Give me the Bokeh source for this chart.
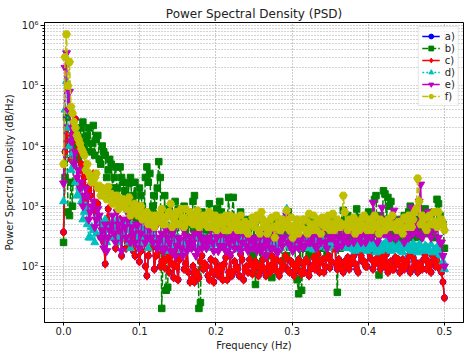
import numpy as np
from bokeh.plotting import figure
from bokeh.models import Range1d, FixedTicker
from bokeh.embed import file_html
from bokeh.resources import INLINE

# Frequency bins (Hz): 257 bins from 0 to 0.5
freq = np.linspace(0.0, 0.5, 257)

series_labels = ["a)", "b)", "c)", "d)", "e)", "f)"]

# Values read at even bins (k/256) and odd bins ((k+0.5)/256)
psd_c_even = [370, 20000, 12000, 8000, 28000, 9000, 5000, 3000, 2000, 1500, 3400, 750, 580, 400, 110, 900,
              500, 350, 250, 600, 400, 200, 300, 450, 150, 250, 180, 300, 70, 200, 250, 150,
              180, 120, 95, 200, 150, 65, 100, 130, 250, 110, 80, 60, 55, 70, 120, 90,
              100, 60, 80, 120, 70, 90, 110, 60, 150, 80, 100, 70, 130, 90, 80, 110,
              90, 110, 80, 130, 70, 100, 150, 90, 80, 120, 100, 140, 80, 110, 90, 130,
              75, 80, 120, 90, 140, 110, 80, 130, 100, 150, 120, 400, 90, 110, 80, 100,
              90, 130, 110, 80, 150, 120, 100, 160, 90, 130, 110, 140, 100, 80, 120, 90,
              110, 80, 130, 100, 150, 90, 120, 80, 100, 130, 90, 110, 150, 100, 200, 80,
              30]
psd_c_odd = [8000, 15000, 6000, 22000, 12000, 4000, 2500, 1200, 1800, 2500, 900, 1100, 300, 250, 600, 450,
             300, 200, 450, 150, 300, 250, 600, 180, 350, 120, 400, 100, 150, 300, 90, 200,
             100, 220, 130, 80, 110, 180, 60, 150, 90, 200, 55, 100, 80, 65, 150, 110,
             70, 130, 55, 90, 100, 60, 140, 80, 70, 120, 90, 160, 60, 100, 130, 75,
             120, 70, 100, 90, 160, 80, 110, 130, 70, 90, 150, 85, 120, 70, 110, 80,
             110, 130, 70, 100, 90, 160, 120, 80, 140, 95, 200, 110, 130, 90, 120, 140,
             110, 150, 90, 170, 120, 100, 200, 130, 110, 180, 90, 120, 160, 110, 90, 140,
             130, 100, 90, 120, 80, 140, 100, 110, 90, 150, 120, 80, 130, 110, 90, 55]

psd_a_even = list(psd_c_even)
psd_a_odd = list(psd_c_odd)

psd_b_even = [250, 30000, 700, 1000, 12000, 6000, 20000, 9000, 15000, 8000, 22000, 13000, 6000, 10000, 7000, 4000,
              5000, 3000, 2000, 4500, 2500, 1500, 2400, 1200, 2500, 800, 1500, 600, 4500, 3500, 1000, 700,
              5500, 20, 1500, 45, 700, 300, 500, 900, 600, 400, 800, 300, 1500, 500, 25, 600,
              400, 1100, 700, 300, 500, 800, 400, 600, 300, 1400, 500, 350, 600, 250, 400, 500,
              500, 300, 100, 250, 400, 300, 65, 350, 200, 450, 300, 150, 400, 250, 100, 35,
              40, 200, 300, 250, 400, 150, 300, 200, 350, 250, 450, 300, 37, 200, 850, 400,
              300, 500, 350, 650, 400, 250, 300, 450, 350, 1500, 72, 500, 1600, 1400, 1200, 400,
              300, 400, 500, 250, 800, 350, 600, 400, 300, 500, 770, 350, 450, 300, 1100, 500,
              200]
psd_b_odd = [3000, 800, 2500, 18000, 9000, 14000, 25000, 12000, 20000, 11000, 7000, 15000, 5000, 8000, 3000, 6000,
             2000, 4500, 1200, 3000, 1800, 900, 3000, 1500, 600, 2000, 1000, 3000, 2500, 800, 1500, 2000,
             3000, 200, 40, 900, 400, 1200, 250, 600, 1000, 300, 500, 1200, 400, 20, 800, 300,
             700, 450, 300, 900, 1200, 350, 500, 1400, 600, 400, 250, 800, 450, 350, 600, 150,
             50, 600, 250, 400, 150, 500, 250, 600, 300, 120, 500, 800, 250, 400, 60, 300,
             250, 450, 150, 600, 300, 400, 250, 500, 150, 350, 600, 200, 500, 300, 600, 700,
             450, 250, 900, 300, 500, 600, 800, 300, 1300, 200, 700, 1800, 600, 1000, 350, 250,
             600, 250, 700, 500, 1000, 300, 450, 600, 350, 900, 500, 400, 800, 1300, 700, 500]

psd_d_even = [1200, 120000, 10000, 7500, 2500, 1500, 1200, 800, 500, 300, 400, 350, 550, 450, 600, 400,
              500, 350, 600, 300, 450, 400, 250, 500, 350, 300, 450, 250, 350, 280, 400, 300,
              250, 300, 220, 280, 200, 320, 240, 260, 200, 300, 230, 270, 210, 290, 240, 220,
              230, 270, 200, 250, 280, 220, 260, 190, 240, 300, 210, 250, 230, 270, 200, 240,
              220, 260, 190, 240, 280, 210, 250, 230, 270, 200, 240, 900, 220, 260, 200, 230,
              250, 210, 270, 230, 190, 260, 220, 280, 240, 200, 250, 230, 270, 210, 240, 260,
              200, 230, 180, 220, 190, 240, 180, 210, 230, 170, 200, 220, 190, 240, 180, 210,
              190, 220, 170, 210, 230, 180, 200, 170, 220, 190, 210, 180, 170, 190, 170, 150,
              90]
psd_d_odd = [40000, 20000, 4000, 5000, 1500, 2000, 600, 1000, 300, 450, 250, 700, 350, 500, 250, 450,
             300, 450, 250, 400, 300, 550, 200, 350, 450, 250, 300, 400, 200, 350, 250, 280,
             200, 250, 300, 180, 260, 220, 300, 180, 250, 280, 200, 240, 300, 200, 260, 300,
             250, 210, 300, 230, 200, 260, 240, 280, 210, 250, 190, 280, 220, 240, 260, 210,
             200, 240, 280, 210, 250, 190, 270, 220, 250, 300, 700, 280, 200, 240, 210, 260,
             220, 280, 200, 250, 240, 210, 270, 230, 200, 260, 220, 250, 230, 280, 200, 230,
             240, 190, 250, 200, 260, 210, 240, 190, 220, 250, 180, 230, 260, 200, 220, 190,
             230, 180, 220, 200, 190, 240, 210, 230, 180, 220, 200, 230, 190, 210, 160, 120]

psd_e_even = [2400, 350000, 80000, 20000, 8000, 4000, 2500, 1500, 1500, 800, 1200, 600, 700, 400, 500, 300,
              500, 350, 800, 400, 600, 300, 700, 450, 250, 500, 350, 600, 300, 400, 250, 450,
              250, 350, 200, 300, 180, 400, 220, 280, 150, 320, 250, 200, 350, 180, 300, 260,
              200, 300, 250, 400, 180, 350, 220, 300, 160, 280, 350, 200, 250, 400, 180, 300,
              250, 180, 300, 220, 150, 280, 200, 350, 170, 260, 300, 700, 220, 180, 280, 200,
              300, 220, 350, 250, 450, 200, 300, 380, 250, 500, 300, 350, 200, 400, 280, 320,
              250, 350, 300, 400, 250, 450, 300, 350, 1150, 400, 300, 950, 350, 400, 300, 850,
              300, 400, 350, 500, 300, 950, 400, 350, 2300, 450, 600, 350, 500, 400, 300, 250,
              100]
psd_e_odd = [200000, 40000, 12000, 5000, 3000, 2000, 1000, 2000, 600, 1000, 450, 900, 300, 200, 180, 400,
             700, 250, 500, 180, 450, 600, 250, 350, 500, 200, 700, 250, 450, 300, 500, 200,
             300, 180, 400, 250, 350, 150, 300, 200, 400, 180, 300, 250, 150, 350, 200, 300,
             250, 400, 180, 300, 220, 450, 180, 250, 350, 200, 300, 180, 350, 220, 280, 200,
             300, 220, 180, 350, 250, 200, 400, 180, 300, 220, 500, 250, 300, 200, 350, 250,
             200, 400, 250, 300, 220, 350, 250, 500, 200, 300, 450, 250, 300, 220, 450, 250,
             400, 250, 600, 300, 350, 250, 500, 300, 700, 250, 500, 350, 600, 300, 500, 300,
             450, 600, 250, 400, 700, 350, 500, 1200, 300, 400, 800, 300, 450, 550, 250, 150]

psd_f_even = [5000, 720000, 250000, 35000, 20000, 13000, 9000, 7000, 5000, 3000, 2500, 3500, 2200, 2000, 1800, 2100,
              1600, 1200, 1500, 1000, 1300, 900, 1400, 800, 1100, 700, 1000, 650, 800, 600, 500, 700,
              600, 900, 500, 700, 1100, 600, 800, 500, 650, 900, 550, 750, 600, 850, 500, 700,
              600, 800, 450, 700, 500, 650, 400, 550, 700, 450, 600, 500, 400, 550, 350, 500,
              450, 700, 350, 600, 500, 400, 650, 300, 500, 400, 550, 850, 400, 300, 500, 350,
              450, 600, 350, 500, 700, 400, 550, 650, 450, 700, 500, 400, 600, 450, 1500, 500,
              600, 450, 350, 550, 500, 700, 400, 600, 450, 500, 350, 550, 400, 600, 500, 450,
              400, 500, 350, 600, 700, 450, 800, 2900, 500, 600, 400, 700, 500, 550, 800, 600,
              400]
psd_f_odd = [300000, 100000, 45000, 25000, 15000, 11000, 8000, 4000, 3500, 2500, 3000, 2000, 1500, 1800, 1300, 1600,
             1100, 1300, 900, 1200, 1000, 1200, 700, 1000, 800, 900, 600, 750, 500, 700, 450, 550,
             750, 500, 650, 800, 450, 700, 500, 900, 450, 600, 800, 500, 700, 450, 650, 500,
             450, 700, 550, 400, 600, 500, 700, 400, 500, 650, 400, 700, 450, 400, 500, 650,
             550, 400, 800, 450, 350, 600, 450, 700, 400, 600, 450, 500, 650, 400, 600, 450,
             600, 400, 750, 400, 500, 600, 350, 550, 600, 400, 750, 500, 450, 500, 800, 400,
             500, 650, 450, 400, 650, 450, 550, 400, 700, 450, 600, 400, 500, 450, 700, 500,
             550, 400, 650, 450, 500, 600, 900, 1200, 700, 450, 650, 500, 800, 450, 600, 500]

x_ticks = [0.0, 0.1, 0.2, 0.3, 0.4, 0.5]
x_tick_labels = ["0.0", "0.1", "0.2", "0.3", "0.4", "0.5"]
y_ticks = [1e2, 1e3, 1e4, 1e5, 1e6]
y_tick_labels = ["10²", "10³", "10⁴", "10⁵", "10⁶"]


def merge(even, odd):
    out = np.empty(len(even) + len(odd))
    out[0::2] = even
    out[1::2] = odd
    return out


all_series = [merge(psd_a_even, psd_a_odd), merge(psd_b_even, psd_b_odd),
              merge(psd_c_even, psd_c_odd), merge(psd_d_even, psd_d_odd),
              merge(psd_e_even, psd_e_odd), merge(psd_f_even, psd_f_odd)]
colors = ["#0000ff", "#008000", "#ff0000", "#00bfbf", "#bf00bf", "#bfbf00"]
markers = ["circle", "square", "diamond", "triangle", "inverted_triangle", "hex"]
marker_sizes = [6, 6.5, 9, 8, 8, 8]
dashes = ["solid", "6 2", "solid", "2 2", "solid", "6 2"]

FONT = "DejaVu Sans"

p = figure(width=472, height=357, y_axis_type="log",
           x_range=Range1d(-0.025, 0.525), y_range=Range1d(10 ** 1.067, 10 ** 6.053),
           output_backend="svg", toolbar_location=None,
           title="Power Spectral Density (PSD)",
           min_border_left=41, min_border_right=9, min_border_top=22, min_border_bottom=35)

p.background_fill_color = "white"
p.border_fill_color = "white"
p.outline_line_color = "black"
p.outline_line_width = 1

for lab, vals, col, mk, ms, dash in zip(series_labels, all_series, colors, markers, marker_sizes, dashes):
    p.line(freq, vals, line_color=col, line_width=1.5, line_dash=dash, legend_label=lab)
    p.scatter(freq, vals, marker=mk, size=ms, fill_color=col, line_color=col, legend_label=lab)

# Axes
p.xaxis.ticker = FixedTicker(ticks=x_ticks)
p.xaxis.major_label_overrides = {t: l for t, l in zip(x_ticks, x_tick_labels)}
minor_y = [m * 10 ** k for k in range(1, 7) for m in range(2, 10)]
p.yaxis.ticker = FixedTicker(ticks=y_ticks, minor_ticks=minor_y)
p.yaxis.major_label_overrides = {t: l for t, l in zip(y_ticks, y_tick_labels)}

for ax in (p.xaxis[0], p.yaxis[0]):
    ax.major_label_text_font = FONT
    ax.major_label_text_font_size = "10px"
    ax.major_label_text_color = "#222222"
    ax.axis_label_text_font = FONT
    ax.axis_label_text_font_size = "10px"
    ax.axis_label_text_font_style = "normal"
    ax.axis_label_text_color = "#222222"
    ax.major_tick_in = 0
    ax.minor_tick_in = 0
    ax.axis_line_color = "black"

p.xaxis.major_tick_out = 3
p.xaxis.major_label_standoff = 1
p.xaxis.axis_label_standoff = 2
p.yaxis.major_tick_out = 4
p.yaxis.major_label_standoff = 2
p.yaxis.axis_label_standoff = 4

p.xaxis.minor_tick_out = 0
p.yaxis.minor_tick_out = 2
p.xaxis.axis_label = "Frequency (Hz)"
p.yaxis.axis_label = "Power Spectral Density (dB/Hz)"

# Grid (major + minor, dotted)
p.xgrid.grid_line_color = "#999999"
p.xgrid.grid_line_dash = "1 2"
p.ygrid.grid_line_color = "#a8a8a8"
p.ygrid.grid_line_dash = "1 2"
p.ygrid.minor_grid_line_color = "#a8a8a8"
p.ygrid.minor_grid_line_dash = "1 2"

# Title
p.title.text_font = FONT
p.title.text_font_size = "12px"
p.title.text_font_style = "normal"
p.title.text_color = "#222222"
p.title.align = "center"
p.title.standoff = 4

# Legend
lg = p.legend[0]
lg.location = "top_right"
lg.margin = 4
lg.padding = 3
lg.spacing = 0
lg.label_height = 12
lg.label_width = 8
lg.glyph_height = 12
lg.glyph_width = 18
lg.label_standoff = 5
lg.label_text_font = FONT
lg.label_text_font_size = "10px"
lg.label_text_color = "#222222"
lg.border_line_color = "#cccccc"
lg.background_fill_alpha = 0.8

open("out.html", "w").write(file_html(p, INLINE))
